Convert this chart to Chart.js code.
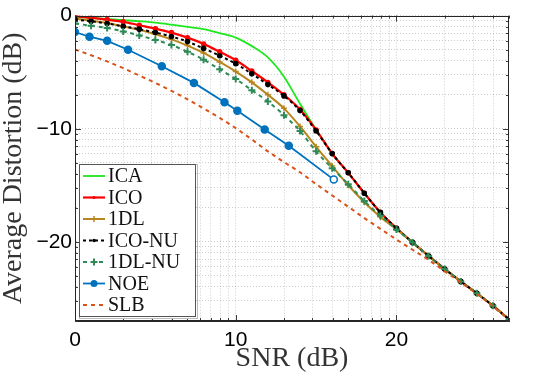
<!DOCTYPE html>
<html>
<head>
<meta charset="utf-8">
<script src="https://cdn.jsdelivr.net/npm/chart.js"></script>
<style>
  body { margin: 0; background: #fff; }
  #wrap { width: 552px; height: 383px; }
</style>
</head>
<body>
<div id="wrap"><canvas id="myChart" width="552" height="383"></canvas></div>
<script>
// SNR grid (dB) for the curves
var snr = [0, 1, 2, 3, 4, 5, 6, 7, 8, 9, 10, 11, 12, 13, 14, 15, 16, 17, 18, 19, 20, 21, 22, 23, 24, 25, 26, 27];

var ica = [-0.1, -0.2, -0.3, -0.4, -0.5, -0.62, -0.8, -1.0, -1.2, -1.55, -1.95, -2.7, -3.7, -5.4, -7.8, -10.1, -12.2, -13.9, -15.7, -17.4, -18.8, -20.05, -21.25, -22.4, -23.5, -24.55, -25.65, -26.85];
var ico = [-0.05, -0.2, -0.35, -0.55, -0.85, -1.15, -1.5, -1.95, -2.5, -3.2, -3.95, -4.9, -5.9, -7.0, -8.3, -10.1, -12.2, -13.9, -15.7, -17.4, -18.8, -20.05, -21.25, -22.4, -23.5, -24.55, -25.65, -26.85];
var dl1 = [-0.25, -0.45, -0.65, -0.95, -1.25, -1.65, -2.1, -2.65, -3.3, -4.1, -4.95, -5.9, -7.0, -8.2, -9.8, -11.6, -13.3, -15.0, -16.5, -17.8, -18.9, -20.05, -21.25, -22.4, -23.5, -24.55, -25.65, -26.85];
var icoNu = [-0.35, -0.5, -0.7, -0.95, -1.2, -1.5, -1.85, -2.3, -2.9, -3.55, -4.25, -5.15, -6.1, -7.1, -8.4, -10.2, -12.2, -13.9, -15.7, -17.4, -18.8, -20.05, -21.25, -22.4, -23.5, -24.55, -25.65, -26.85];
var dl1Nu = [-0.7, -0.9, -1.1, -1.4, -1.75, -2.15, -2.6, -3.2, -3.9, -4.75, -5.6, -6.6, -7.6, -8.8, -10.2, -12.0, -13.5, -14.9, -16.4, -17.7, -18.9, -20.05, -21.25, -22.4, -23.5, -24.55, -25.65, -26.85];
var slb = [-3.0, -3.5, -4.05, -4.65, -5.3, -5.95, -6.65, -7.4, -8.2, -9.05, -9.95, -10.95, -12.0, -12.95, -13.85, -14.9, -15.9, -16.9, -17.9, -18.85, -19.8, -20.7, -21.6, -22.6, -23.6, -24.6, -25.7, -26.9];

// NOE has its own SNR points
var noeSnr = [0, 0.9, 2, 3.3, 5.4, 7.4, 9.3, 10.1, 11.8, 13.3, 16.1];
var noe = [-1.45, -1.87, -2.23, -3.02, -4.48, -5.95, -7.66, -8.42, -10.06, -11.5, -14.5];

// tick labels / grid
var xMajor = [0, 10, 20];
var yMajor = [-20, -10, 0];
var xRange = [0, 27];
var yRange = [-27, 0];

function pts(xs, ys) {
  return xs.map((x, i) => ({ x: x, y: ys[i] }));
}

// matlab style minor grid: 10*log10(k) inside every decade
function gridValues(lo, hi, sign) {
  var vals = [];
  for (var d = -30; d <= 30; d += 10) {
    vals.push(d);
    for (var k = 2; k <= 9; k++) {
      vals.push(sign > 0 ? d + 10 * Math.log10(k) : d - 10 + 10 * Math.log10(k));
    }
  }
  return vals.filter(v => v >= lo - 1e-9 && v <= hi + 1e-9).sort((a, b) => a - b);
}

function isMajor(v) {
  return Math.abs(v - Math.round(v / 10) * 10) < 1e-6;
}

function fmt(v) {
  v = Math.round(v);
  return v < 0 ? '\u2212' + Math.abs(v) : '' + v;
}

var frame = {
  id: 'frame',
  afterDatasetsDraw(chart) {
    var ctx = chart.ctx, a = chart.chartArea;
    var xs = chart.scales.x, ys = chart.scales.y;
    ctx.save();
    ctx.strokeStyle = '#3a3a3a';
    ctx.lineWidth = 1;
    ctx.beginPath();
    xs.ticks.forEach(t => {
      var p = Math.round(xs.getPixelForValue(t.value)) + 0.5;
      var l = isMajor(t.value) ? 6 : 3;
      ctx.moveTo(p, a.bottom); ctx.lineTo(p, a.bottom - l);
      ctx.moveTo(p, a.top); ctx.lineTo(p, a.top + l);
    });
    ys.ticks.forEach(t => {
      var p = Math.round(ys.getPixelForValue(t.value)) + 0.5;
      var l = isMajor(t.value) ? 6 : 3;
      ctx.moveTo(a.left, p); ctx.lineTo(a.left + l, p);
      ctx.moveTo(a.right, p); ctx.lineTo(a.right - l, p);
    });
    ctx.stroke();
    ctx.strokeStyle = '#262626';
    ctx.strokeRect(Math.round(a.left) + 0.5, Math.round(a.top) + 0.5, Math.round(a.right - a.left) - 1, Math.round(a.bottom - a.top) - 1);
    ctx.restore();
  }
};

function drawMarker(ctx, style, r, x, y, color, fill) {
  if (!r) return;
  ctx.setLineDash([]);
  ctx.beginPath();
  if (style === 'cross') {
    ctx.moveTo(x - r, y); ctx.lineTo(x + r, y);
    ctx.moveTo(x, y - r); ctx.lineTo(x, y + r);
    ctx.strokeStyle = color;
    ctx.stroke();
  } else {
    ctx.arc(x, y, r, 0, Math.PI * 2);
    ctx.fillStyle = fill;
    ctx.fill();
  }
}

var boxLegend = {
  id: 'boxLegend',
  afterDatasetsDraw(chart) {
    var ctx = chart.ctx;
    var sets = chart.data.datasets;
    var x0 = 79, y0 = 164, w = 117, h = 153;
    ctx.save();
    ctx.fillStyle = '#fff';
    ctx.fillRect(x0, y0, w, h);
    ctx.strokeStyle = '#bbb';
    ctx.lineWidth = 1;
    ctx.strokeRect(x0 + 0.5, y0 + 0.5, w + 1, h + 1);
    ctx.strokeStyle = '#555';
    ctx.strokeRect(x0 + 0.5, y0 + 0.5, w - 1, h - 1);
    ctx.font = '20px "Liberation Serif"';
    ctx.textBaseline = 'middle';
    sets.forEach((ds, i) => {
      var y = 176 + i * 21.5;
      ctx.strokeStyle = ds.borderColor;
      ctx.lineWidth = ds.borderWidth;
      ctx.setLineDash(ds.borderDash || []);
      ctx.beginPath();
      ctx.moveTo(83, y); ctx.lineTo(105, y);
      ctx.stroke();
      ctx.lineWidth = ds.pointBorderWidth || 1.5;
      drawMarker(ctx, ds.pointStyle, ds.pointRadius, 94, y, ds.borderColor, ds.borderColor);
      ctx.fillStyle = '#111';
      ctx.fillText(ds.label, 108, y + 1);
    });
    ctx.restore();
  }
};

var ctx = document.getElementById('myChart').getContext('2d');
var chart = new Chart(ctx, {
  type: 'line',
  data: {
    datasets: [
      { label: 'ICA', data: pts(snr, ica), borderColor: '#1ee81e', borderWidth: 1.8, pointRadius: 0, order: 7, cubicInterpolationMode: 'monotone' },
      { label: 'ICO', data: pts(snr, ico), borderColor: '#ff0000', backgroundColor: '#ff0000', borderWidth: 2.2, pointRadius: 1.6, pointStyle: 'circle', order: 6, cubicInterpolationMode: 'monotone' },
      { label: '1DL', data: pts(snr, dl1), borderColor: '#b8861e', backgroundColor: '#b8861e', borderWidth: 2, pointRadius: 3, pointStyle: 'cross', pointBorderWidth: 1.5, order: 5, cubicInterpolationMode: 'monotone' },
      { label: 'ICO-NU', data: pts(snr, icoNu), borderColor: '#000000', backgroundColor: '#000000', borderWidth: 2, borderDash: [3, 3], pointRadius: 1.8, pointStyle: 'circle', order: 4, cubicInterpolationMode: 'monotone' },
      { label: '1DL-NU', data: pts(snr, dl1Nu), borderColor: '#2e8b57', backgroundColor: '#2e8b57', borderWidth: 2, borderDash: [4, 4], pointRadius: 3.5, pointStyle: 'cross', pointBorderWidth: 2, order: 3, cubicInterpolationMode: 'monotone' },
      { label: 'NOE', data: pts(noeSnr, noe), borderColor: '#0072bd', backgroundColor: '#0072bd', borderWidth: 1.8, pointRadius: 3.5, pointStyle: 'circle',
        pointBackgroundColor: c => c.dataIndex === noe.length - 1 ? '#ffffff' : '#0072bd', pointBorderWidth: 1.5, order: 2 },
      { label: 'SLB', data: pts(snr, slb), borderColor: '#d95319', borderWidth: 2, borderDash: [4, 4], pointRadius: 0, order: 1, cubicInterpolationMode: 'monotone' }
    ]
  },
  options: {
    responsive: false,
    animation: false,
    layout: { padding: { top: 13, right: 43, left: 0, bottom: 0 } },
    plugins: { legend: { display: false }, tooltip: { enabled: false } },
    scales: {
      x: {
        type: 'linear',
        min: xRange[0], max: xRange[1],
        afterBuildTicks: s => { s.ticks = gridValues(xRange[0], xRange[1], 1).map(v => ({ value: v })); },
        afterFit: s => { s.height = 62; },
        grid: { color: 'rgba(0,0,0,0.2)', drawTicks: false },
        border: { color: '#262626', dash: [1, 2] },
        ticks: { autoSkip: false, maxRotation: 0, padding: 7, color: '#000', font: { family: '"Liberation Sans"', size: 21 },
          callback: v => isMajor(v) && xMajor.includes(Math.round(v)) ? fmt(v) : '' },
        title: { display: true, text: 'SNR (dB)', color: '#333', font: { family: '"Liberation Serif"', size: 28, lineHeight: 1 }, padding: { top: 0, bottom: 10 } }
      },
      y: {
        type: 'linear',
        min: yRange[0], max: yRange[1],
        afterBuildTicks: s => { s.ticks = gridValues(yRange[0], yRange[1], -1).map(v => ({ value: v })); },
        afterFit: s => { s.width = 75; },
        grid: { color: 'rgba(0,0,0,0.2)', drawTicks: false },
        border: { color: '#262626', dash: [1, 2] },
        ticks: { autoSkip: false, padding: 3, color: '#000', font: { family: '"Liberation Sans"', size: 21 },
          callback: v => isMajor(v) && yMajor.includes(Math.round(v)) ? fmt(v) : '' },
        title: { display: true, text: 'Average Distortion (dB)', color: '#333', font: { family: '"Liberation Serif"', size: 28, lineHeight: 1 }, padding: { top: 0, bottom: 0 } }
      }
    }
  },
  plugins: [frame, boxLegend]
});
</script>
</body>
</html>
